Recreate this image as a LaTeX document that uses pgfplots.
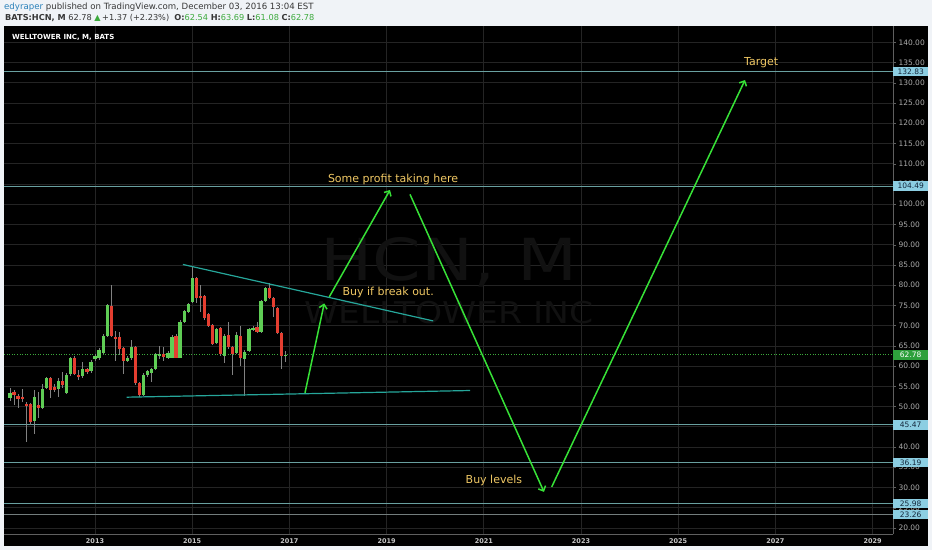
\documentclass[border=0pt]{standalone}
\usepackage{fontspec}
\setmainfont{DejaVu Sans}
\usepackage{pgfplots}
\pgfplotsset{compat=1.18}
\usepackage{pgfplotstable}
\usetikzlibrary{arrows.meta}

\definecolor{hdrbg}{RGB}{240,243,247}
\definecolor{hdrtxt}{RGB}{55,55,55}
\definecolor{userblue}{RGB}{41,128,185}
\definecolor{upg}{RGB}{60,170,60}
\definecolor{candleup}{RGB}{95,205,85}
\definecolor{candledn}{RGB}{228,62,48}
\definecolor{wick}{RGB}{130,130,130}
\definecolor{gridc}{RGB}{36,36,36}
\definecolor{axgray}{RGB}{95,95,95}
\definecolor{tickc}{RGB}{170,170,170}
\definecolor{yearc}{RGB}{200,200,200}
\definecolor{trend}{RGB}{38,166,154}
\definecolor{level}{RGB}{105,160,160}
\definecolor{levelgray}{RGB}{115,125,125}
\definecolor{arrowg}{RGB}{55,225,55}
\definecolor{gold}{RGB}{240,200,100}
\definecolor{wmark}{RGB}{17,17,17}
\definecolor{lblblue}{RGB}{140,206,226}
\definecolor{lbltxt}{RGB}{20,40,60}
\definecolor{lblgreen}{RGB}{46,160,60}

% monthly candles, m = months since Jan 2013
\pgfplotstableread{
m o h l c
-21 52.1 54.6 51.3 53.3
-15 46.3 54.0 43.3 52.3
-13 49.6 55.5 49.3 54.4
-12 54.6 57.3 54.3 57.1
-9 54.4 57.1 52.4 56.25
-7 53.3 58.3 53.0 57.9
-6 58.1 62.3 57.6 61.9
-3 57.5 61.0 57.0 59.2
-1 58.75 61.4 58.3 61.0
0 61.7 63.0 61.2 62.5
1 61.9 64.4 61.5 64.0
2 63.3 67.8 63.0 67.5
3 67.5 75.3 67.2 75.0
8 61.25 62.5 60.9 62.1
9 61.9 66.5 61.6 64.6
12 52.9 58.2 52.6 57.9
13 57.7 59.0 57.4 58.75
14 58.2 59.5 56.0 59.2
15 59.2 63.2 59.0 62.9
16 62.7 65.0 61.7 62.9
18 62.1 63.6 61.8 63.3
19 62.1 67.6 61.9 67.3
21 62.1 71.3 61.9 71.0
22 71.0 73.8 70.7 73.5
23 73.3 75.7 73.0 75.4
24 75.8 84.6 75.5 81.8
30 65.7 69.5 65.4 69.2
32 62.5 67.8 60.8 67.5
35 63.3 68.5 63.0 67.7
37 61.7 63.9 52.7 63.5
38 63.75 69.5 63.5 69.2
39 69.0 70.0 68.6 69.5
41 68.5 76.3 68.2 76.0
42 76.0 79.6 75.8 79.3
47 62.54 63.69 61.08 62.78
}\upcandles

\pgfplotstableread{
m o h l c
-20 53.6 54.2 50.4 52.75
-19 52.5 53.0 49.6 51.9
-18 52.2 54.4 51.1 52.0
-17 50.6 51.0 41.3 50.3
-16 50.6 50.8 45.5 46.1
-14 50.4 53.6 47.1 49.6
-11 57.1 57.4 52.2 54.0
-10 54.8 55.5 53.5 54.2
-8 56.4 58.5 54.6 55.25
-5 62.1 62.4 57.8 58.1
-4 57.9 59.0 56.5 57.25
-2 59.2 59.6 58.1 58.6
4 74.75 80.0 67.2 67.5
5 67.25 68.75 61.25 66.7
6 67.25 68.5 62.7 64.1
7 64.4 64.8 58.0 61.25
10 64.6 64.9 55.4 55.7
11 55.7 56.0 52.25 52.9
17 62.9 64.8 61.3 62.3
20 67.5 67.8 61.9 62.1
25 81.8 82.0 75.5 76.8
26 77.3 80.1 73.3 77.0
27 77.3 77.5 71.5 71.8
28 72.9 73.2 69.7 70.0
29 70.2 70.4 65.1 65.4
31 69.3 69.6 62.6 62.9
33 67.7 71.0 64.3 64.6
34 64.6 64.9 57.9 62.9
36 67.5 70.0 60.0 62.1
40 69.6 71.0 68.2 68.5
43 79.3 80.4 76.5 76.8
44 76.8 77.0 72.0 74.6
45 74.3 74.6 67.9 68.2
46 68.2 68.4 59.2 62.5
}\dncandles

\begin{document}
\begin{tikzpicture}[x=1pt,y=1pt]
\useasboundingbox (0,0) rectangle (932,-550);
\fill[hdrbg] (0,0) rectangle (932,-550);
\fill[black] (4,-26) rectangle (928,-546);

\node[anchor=west, inner sep=0pt] at (4,-7) {\fontsize{8.6}{9}\selectfont\textcolor{userblue}{edyraper} \textcolor{hdrtxt}{published on TradingView.com, December 03, 2016 13:04 EST}};
\node[anchor=west, inner sep=0pt] at (5,-17.5) {\fontsize{8.2}{9}\selectfont\color{hdrtxt}\textbf{BATS:HCN, M}\ 62.78 \textcolor{upg}{▲}\,+1.37 (+2.23\%)\ \ \textbf{O:}\textcolor{upg}{62.54} \textbf{H:}\textcolor{upg}{63.69} \textbf{L:}\textcolor{upg}{61.08} \textbf{C:}\textcolor{upg}{62.78}};

\begin{axis}[
    at={(4pt,-26pt)}, anchor=north west,
    scale only axis, width=889pt, height=508pt,
    xmin=-22.47, xmax=197.04, ymin=18.49, ymax=144.03,
    axis background/.style={fill=black},
    axis x line*=bottom, axis y line*=right,
    axis line style={draw=axgray, line width=0.8pt},
    xtick={0,24,...,192},
    xticklabels={2013,2015,2017,2019,2021,2023,2025,2027,2029},
    ytick={20,25,...,140},
    grid=major,
    major grid style={draw=gridc, line width=0.6pt},
    tick align=outside, major tick length=3pt,
    xtick style={draw=none}, ytick style={draw=axgray},
    yticklabel pos=right,
    y tick label style={font=\fontsize{7.5}{8}\selectfont, text=tickc, xshift=-1pt,
        /pgf/number format/.cd, fixed, fixed zerofill, precision=2, assume math mode=true},
    x tick label style={font=\fontsize{6.5}{7}\selectfont\bfseries, text=yearc, yshift=2pt},
    clip mode=individual,
]
% watermark
\node[text=wmark, font=\fontsize{58}{58}\selectfont] at (axis cs:87.4,85.7) {\scalebox{1.2}[1]{HCN, M}};
\node[text=wmark, font=\fontsize{30}{30}\selectfont] at (axis cs:87.4,73.1) {\scalebox{1.15}[1]{WELLTOWER INC}};

% horizontal levels
\addplot[level, line width=0.8pt] coordinates {(-22.47,132.83) (197.04,132.83)};
\addplot[level, line width=0.8pt] coordinates {(-22.47,104.49) (197.04,104.49)};
\addplot[level, line width=0.8pt] coordinates {(-22.47,45.47) (197.04,45.47)};
\addplot[level, line width=0.8pt] coordinates {(-22.47,36.19) (197.04,36.19)};
\addplot[level, line width=0.8pt] coordinates {(-22.47,25.98) (197.04,25.98)};
\addplot[levelgray, line width=0.8pt] coordinates {(-22.47,23.26) (197.04,23.26)};
\addplot[upg, dotted, line width=0.6pt] coordinates {(-22.47,62.78) (197.04,62.78)};

% wicks
\addplot[draw=none, mark=none, error bars/.cd, y dir=both, y explicit, error mark=none,
    error bar style={draw=wick, line width=0.8pt}]
    table[x=m, y expr={(\thisrow{h}+\thisrow{l})/2}, y error expr={(\thisrow{h}-\thisrow{l})/2}] {\upcandles};
\addplot[draw=none, mark=none, error bars/.cd, y dir=both, y explicit, error mark=none,
    error bar style={draw=wick, line width=0.8pt}]
    table[x=m, y expr={(\thisrow{h}+\thisrow{l})/2}, y error expr={(\thisrow{h}-\thisrow{l})/2}] {\dncandles};
% bodies
\addplot[draw=none, mark=none, error bars/.cd, y dir=both, y explicit, error mark=none,
    error bar style={draw=candleup, line width=3.2pt}]
    table[x=m, y expr={(\thisrow{o}+\thisrow{c})/2}, y error expr={max(abs(\thisrow{c}-\thisrow{o})/2,0.15)}] {\upcandles};
\addplot[draw=none, mark=none, error bars/.cd, y dir=both, y explicit, error mark=none,
    error bar style={draw=candledn, line width=3.2pt}]
    table[x=m, y expr={(\thisrow{o}+\thisrow{c})/2}, y error expr={max(abs(\thisrow{c}-\thisrow{o})/2,0.15)}] {\dncandles};

% trend lines
\addplot[trend, line width=1.2pt] coordinates {(21.7,85.1) (83.5,71.15)};
\addplot[trend, line width=1.2pt] coordinates {(7.8,52.3) (92.6,53.95)};

% scenario arrows
\addplot[arrowg, line width=1.5pt, -{Straight Barb[length=4pt,width=8pt]}] coordinates {(51.85,53.37) (56.6,75.48)};
\addplot[arrowg, line width=1.5pt, -{Straight Barb[length=4pt,width=8pt]}] coordinates {(57.85,77.1) (72.84,103.5)};
\addplot[arrowg, line width=1.5pt, -{Straight Barb[length=4pt,width=8pt]}] coordinates {(77.78,102.42) (110.86,28.9)};
\addplot[arrowg, line width=1.5pt, -{Straight Barb[length=4pt,width=8pt]}] coordinates {(112.77,30.14) (160.5,130.68)};

% annotations
\node[text=gold, font=\fontsize{11}{12}\selectfont] at (axis cs:73.6,106.1) {Some profit taking here};
\node[text=gold, font=\fontsize{11}{12}\selectfont] at (axis cs:72.4,78.1) {Buy if break out.};
\node[text=gold, font=\fontsize{11}{12}\selectfont] at (axis cs:98.5,31.6) {Buy levels};
\node[text=gold, font=\fontsize{11}{12}\selectfont] at (axis cs:164.5,135.05) {Target};

\coordinate (b1) at (axis cs:197.04,132.83);
\coordinate (b2) at (axis cs:197.04,104.49);
\coordinate (b3) at (axis cs:197.04,62.78);
\coordinate (b4) at (axis cs:197.04,45.47);
\coordinate (b5) at (axis cs:197.04,36.19);
\coordinate (b6) at (axis cs:197.04,25.98);
\coordinate (b7) at (axis cs:197.04,23.26);
\end{axis}

\tikzset{lbl/.style={anchor=west, inner sep=0pt, minimum width=35pt, minimum height=9.5pt,
    fill=lblblue, text=lbltxt, font=\fontsize{7.5}{8}\selectfont}}
\node[lbl] at (b1) {132.83};
\node[lbl] at (b2) {104.49};
\node[lbl, fill=lblgreen, text=white] at (b3) {62.78};
\node[lbl] at (b4) {45.47};
\node[lbl] at (b5) {36.19};
\node[lbl] at (b6) {25.98};
\node[lbl] at (b7) {23.26};

\node[anchor=west, inner sep=0pt, text=white, font=\fontsize{7}{8}\selectfont\bfseries] at (12,-37) {WELLTOWER INC, M, BATS};
\end{tikzpicture}
\end{document}
